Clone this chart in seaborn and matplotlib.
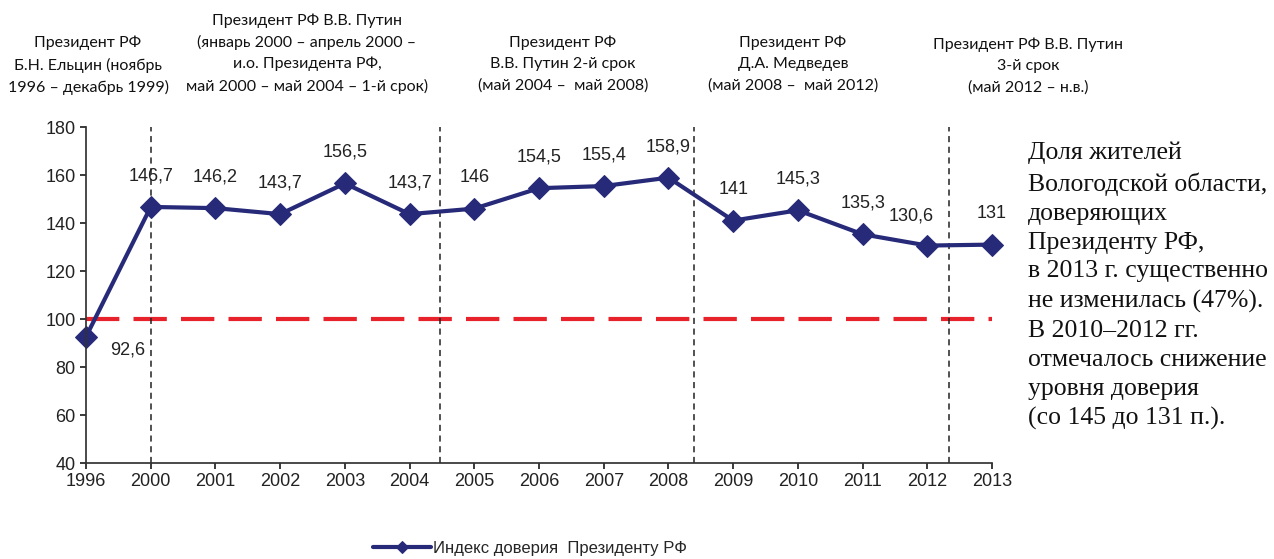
import matplotlib
import numpy
import pandas as pd
import seaborn as sns
from matplotlib import pyplot

years = ["1996", "2000", "2001", "2002", "2003", "2004", "2005", "2006",
         "2007", "2008", "2009", "2010", "2011", "2012", "2013"]
trust_index = [92.6, 146.7, 146.2, 143.7, 156.5, 143.7, 146, 154.5,
               155.4, 158.9, 141, 145.3, 135.3, 130.6, 131]
baseline = 100
y_ticks = [40, 60, 80, 100, 120, 140, 160, 180]
series_name = "Индекс доверия  Президенту РФ"

periods = [
    "Президент РФ\nБ.Н. Ельцин (ноябрь\n1996 – декабрь 1999)",
    "Президент РФ В.В. Путин\n(январь 2000 – апрель 2000 –\nи.о. Президента РФ,\nмай 2000 – май 2004 – 1-й срок)",
    "Президент РФ\nВ.В. Путин 2-й срок\n(май 2004 –  май 2008)",
    "Президент РФ\nД.А. Медведев\n(май 2008 –  май 2012)",
    "Президент РФ В.В. Путин\n3-й срок\n(май 2012 – н.в.)",
]
note = ("Доля жителей\nВологодской области,\nдоверяющих\nПрезиденту РФ,\n"
        "в 2013 г. существенно\nне изменилась (47%).\nВ 2010–2012 гг.\n"
        "отмечалось снижение\nуровня доверия\n(со 145 до 131 п.).")

sns.set_theme(style="ticks")
matplotlib.rcParams['font.family'] = ['Liberation Sans', 'DejaVu Sans']

df = pd.DataFrame({"pos": numpy.arange(len(years)), "value": trust_index})

fig = pyplot.figure(figsize=(12.74, 5.59), dpi=100)
ax = fig.add_axes([0.0675, 0.1717, 0.7112, 0.6011])

navy = "#262a78"
sns.lineplot(data=df, x="pos", y="value", ax=ax, color=navy, linewidth=3,
             marker="D", markersize=11, markeredgecolor=navy, label=series_name)
for ln in ax.lines:
    ln.set_clip_on(False)

ax.axhline(baseline, color="#e8222a", linewidth=3, dashes=(8, 3.4), zorder=1)
# period dividers
for xv in [1, 5.47, 9.4, 13.33]:
    ax.axvline(xv, color="#222222", linewidth=1.1, dashes=(4, 3), zorder=1)

# data labels
for i, v in enumerate(trust_index):
    txt = f"{v:g}".replace(".", ",")
    if i == 0:
        off = (42, -13)
    elif i == 13:
        off = (-16, 30)
    else:
        off = (0, 31)
    ax.annotate(txt, (i, v), xytext=off, textcoords="offset pixels",
                ha="center", va="center", fontsize=13, color="#222222")

ax.set_xlim(0, len(years) - 1)
ax.set_ylim(40, 180)
ax.set_xticks(df["pos"])
ax.set_xticklabels(years)
ax.set_yticks(y_ticks)
ax.tick_params(labelsize=13, colors="#222222", length=4)
ax.set_xlabel("")
ax.set_ylabel("")
sns.despine(ax=ax)
for s in ["left", "bottom"]:
    ax.spines[s].set_color("#333333")

# period headers
header_x = [88, 307, 563, 793, 1028]
header_top = [36, 13, 36, 36, 38]
for t, hx, hy in zip(periods, header_x, header_top):
    fig.text(hx / 1274, 1 - hy / 559, t, ha="center", va="top", fontsize=11.5,
             family=['Lato', 'DejaVu Sans'], color="#111111", linespacing=1.6)

fig.text(1028 / 1274, 1 - 142 / 559, note, ha="left", va="top", fontsize=18.5,
         family=['Liberation Serif', 'DejaVu Serif'], color="#111111", linespacing=1.41)

leg = ax.legend(loc="center", bbox_to_anchor=(530 / 1274, 1 - 548 / 559),
                bbox_transform=fig.transFigure, frameon=False, fontsize=12,
                handlelength=3.5, handletextpad=0.1, markerscale=0.6)

fig.savefig("out.png", dpi=100)
